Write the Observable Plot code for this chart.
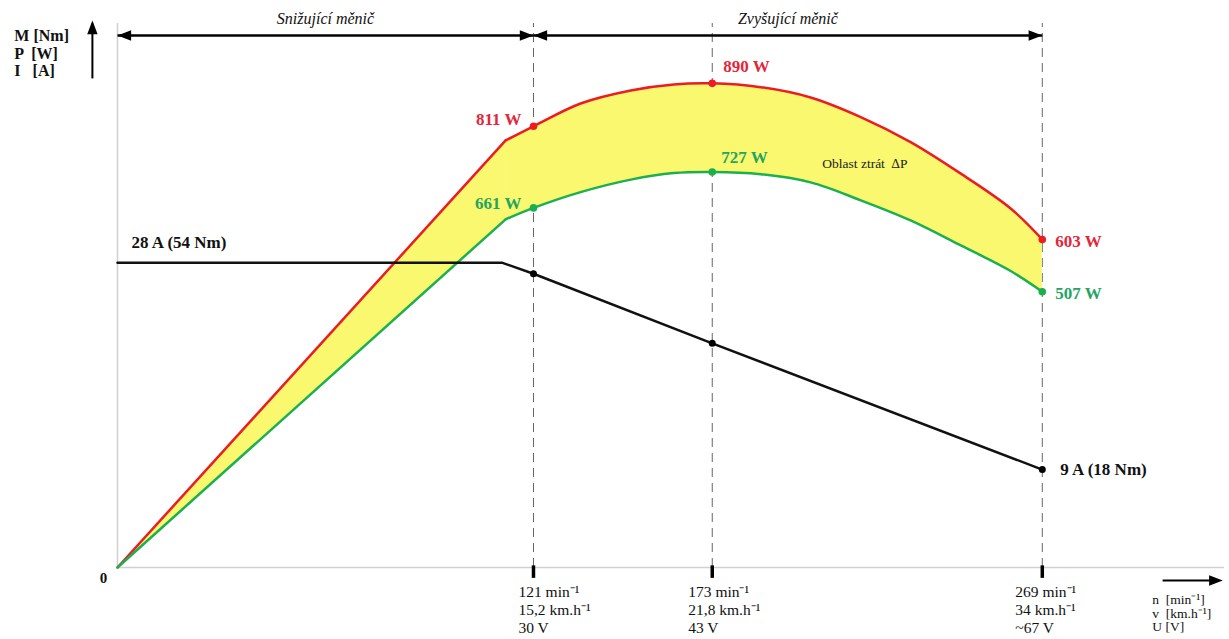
<!DOCTYPE html>
<html>
<head>
<meta charset="utf-8">
<script src="https://cdn.jsdelivr.net/npm/d3@7"></script>
<script src="https://cdn.jsdelivr.net/npm/@observablehq/plot@0.6"></script>
<style>
  html, body { margin: 0; padding: 0; background: #fff; }
  #chart { width: 1229px; height: 639px; overflow: hidden; }
</style>
</head>
<body>
<div id="chart"></div>
<script>
// ---- data ----
const rpm      = [0, 112.9, 121, 134.7, 149.3, 161.8, 173, 187.1, 201.6, 216.2, 230.7, 245.3, 259.8, 269];
const powerIn  = [0, 785, 811, 853, 877, 888, 890, 883, 864, 828, 782, 724, 660, 603];   // W (red)
const powerOut = [0, 640, 661, 690, 713, 725, 727, 723, 708, 675, 638, 592, 545, 507];   // W (green)

const currentRpm = [0, 112, 121, 173, 269];
const currentA   = [28, 28, 27, 20.6, 9];      // A (black), drawn with 20 W-units per A
const A_TO_UNITS = 20;

const markRpm     = [121, 173, 269];
const markIn      = [811, 890, 603];
const markOut     = [661, 727, 507];
const markCurrent = [27, 20.6, 9];

const tickRpm    = [121, 173, 269];
const tickLabels = ["121 min⁻¹\n15,2 km.h⁻¹\n30 V", "173 min⁻¹\n21,8 km.h⁻¹\n43 V", "269 min⁻¹\n34 km.h⁻¹\n~67 V"];

const regionNames = ["Snižující měnič", "Zvyšující měnič"];
const regionFrom  = [0, 121];
const regionTo    = [121, 269];

const inLabels  = ["811 W", "890 W", "603 W"];
const outLabels = ["661 W", "727 W", "507 W"];

// ---- build tables ----
const curve = rpm.map((r, i) => ({r, pin: powerIn[i], pout: powerOut[i]}));
const ramp = curve.slice(0, 2);      // straight rise up to the kink
const upper = curve.slice(1);        // smooth part
const cur = currentRpm.map((r, i) => ({r, v: currentA[i] * A_TO_UNITS}));
const RED = "#ec1c24", GREEN = "#1caf4f", YELLOW = "#f9f86e";
const RED_T = "#e3263a", GREEN_T = "#22a463";
const SMOOTH = "catmull-rom";

// arrowhead symbol: tip at the origin, pointing right
const head = {
  draw(ctx, size) {
    const s = Math.sqrt(size);
    ctx.moveTo(0, 0);
    ctx.lineTo(-s * 1.1, -s * 0.42);
    ctx.lineTo(-s * 1.1, s * 0.42);
    ctx.closePath();
  }
};

const TOP = 978;     // level of the region arrows (W units)
const serif = "Liberation Serif, Times New Roman, serif";

function label(x, y, text, o) {
  return Plot.text([text], {x, y, text: d => d, fontFamily: serif, ...o});
}

const labelMarks = [
  label(markRpm[0], markIn[0], inLabels[0], {textAnchor: "end", dx: -12, dy: -7, fill: RED_T, fontWeight: "bold", fontSize: 17}),
  label(markRpm[1], markIn[1], inLabels[1], {textAnchor: "start", dx: 11, dy: -17, fill: RED_T, fontWeight: "bold", fontSize: 17}),
  label(markRpm[2], markIn[2], inLabels[2], {textAnchor: "start", dx: 13, dy: 2, fill: RED_T, fontWeight: "bold", fontSize: 17}),
  label(markRpm[0], markOut[0], outLabels[0], {textAnchor: "end", dx: -12, dy: -4, fill: GREEN_T, fontWeight: "bold", fontSize: 17}),
  label(markRpm[1], markOut[1], outLabels[1], {textAnchor: "start", dx: 9, dy: -14, fill: GREEN_T, fontWeight: "bold", fontSize: 17}),
  label(markRpm[2], markOut[2], outLabels[2], {textAnchor: "start", dx: 13, dy: 2, fill: GREEN_T, fontWeight: "bold", fontSize: 17}),
  label(0, currentA[0] * A_TO_UNITS, "28 A (54 Nm)", {textAnchor: "start", dx: 14, dy: -20, fontWeight: "bold", fontSize: 17, fill: "#111"}),
  label(269, currentA[4] * A_TO_UNITS, "9 A (18 Nm)", {textAnchor: "start", dx: 18, dy: 0, fontWeight: "bold", fontSize: 17, fill: "#111"}),
  label(205, 743, "Oblast ztrát  ∆P", {textAnchor: "start", fontSize: 13.5, fill: "#222"}),
  label(0, 0, "0", {dx: -14, dy: 11, fontWeight: "bold", fontSize: 15, fill: "#111"}),
  label(-30, 978, "M [Nm]\nP  [W]\nI   [A]", {textAnchor: "start", lineAnchor: "top", dy: -7, lineHeight: 1.1, fontWeight: "bold", fontSize: 16, fill: "#111"}),
  label(tickRpm[0], 0, tickLabels[0], {textAnchor: "start", lineAnchor: "top", dx: -15, dy: 17, lineHeight: 1.16, fontSize: 15.5, fill: "#111"}),
  label(tickRpm[1], 0, tickLabels[1], {textAnchor: "start", lineAnchor: "top", dx: -24, dy: 17, lineHeight: 1.16, fontSize: 15.5, fill: "#111"}),
  label(tickRpm[2], 0, tickLabels[2], {textAnchor: "start", lineAnchor: "top", dx: -27, dy: 17, lineHeight: 1.16, fontSize: 15.5, fill: "#111"}),
  label(301, -24, "n  [min⁻¹]\nv  [km.h⁻¹]\nU [V]", {textAnchor: "start", lineAnchor: "top", dy: 14, lineHeight: 1.0, fontSize: 13.5, fill: "#111"})
];

const plot = Plot.plot({
  width: 1229,
  height: 639,
  marginLeft: 117,
  marginRight: 5,
  marginTop: 23,
  marginBottom: 72,
  x: {domain: [0, 322], axis: null},
  y: {domain: [0, 1000], axis: null},
  style: {fontFamily: serif, background: "#fff", overflow: "visible"},
  marks: [
    // axes
    Plot.ruleY([0], {stroke: "#d0d0d0", strokeWidth: 1.5}),
    Plot.ruleX([0], {y1: 0, y2: 1000, stroke: "#d0d0d0", strokeWidth: 1.5}),
    Plot.ruleX(tickRpm, {y1: 0, y2: 1000, stroke: "#666", strokeWidth: 1, strokeDasharray: "9,6"}),
    Plot.ruleX(tickRpm, {y1: -20, y2: 3, stroke: "#000", strokeWidth: 3.5}),
    // loss area
    Plot.areaY(ramp, {x: "r", y1: "pout", y2: "pin", fill: YELLOW}),
    Plot.areaY(upper, {x: "r", y1: "pout", y2: "pin", fill: YELLOW, curve: SMOOTH}),
    Plot.line(ramp, {x: "r", y: "pin", stroke: RED, strokeWidth: 2.5}),
    Plot.line(upper, {x: "r", y: "pin", stroke: RED, strokeWidth: 2.5, curve: SMOOTH}),
    Plot.line(ramp, {x: "r", y: "pout", stroke: GREEN, strokeWidth: 2.5}),
    Plot.line(upper, {x: "r", y: "pout", stroke: GREEN, strokeWidth: 2.5, curve: SMOOTH}),
    Plot.line(cur, {x: "r", y: "v", stroke: "#111", strokeWidth: 2.5}),
    Plot.dot(markRpm, {x: d => d, y: (d, i) => markIn[i], r: 3.8, fill: RED}),
    Plot.dot(markRpm, {x: d => d, y: (d, i) => markOut[i], r: 3.8, fill: GREEN}),
    Plot.dot(markRpm, {x: d => d, y: (d, i) => markCurrent[i] * A_TO_UNITS, r: 3.5, fill: "#000"}),
    // region double arrows
    Plot.link(regionNames, {x1: (d, i) => regionFrom[i], x2: (d, i) => regionTo[i], y1: TOP, y2: TOP,
      stroke: "#000", strokeWidth: 2.5}),
    Plot.dot(regionNames, {x: (d, i) => regionFrom[i], y: TOP, symbol: head, r: 7, rotate: 180, fill: "#000", stroke: null}),
    Plot.dot(regionNames, {x: (d, i) => regionTo[i], y: TOP, symbol: head, r: 7, rotate: 0, fill: "#000", stroke: null}),
    Plot.text(regionNames, {x: (d, i) => (regionFrom[i] + regionTo[i]) / 2, y: TOP, dy: -17, text: d => d,
      fontStyle: "italic", fontSize: 16, fill: "#111"}),
    // y-axis arrow
    Plot.link([0], {x1: -7.3, x2: -7.3, y1: 899, y2: 1000, stroke: "#000", strokeWidth: 2}),
    Plot.dot([0], {x: -7.3, y: 1000, dy: -3, symbol: head, r: 7, rotate: -90, fill: "#000", stroke: null}),
    // x-axis arrow
    Plot.link([0], {x1: 304, x2: 319, y1: -24, y2: -24, stroke: "#000", strokeWidth: 2}),
    Plot.dot([0], {x: 321.5, y: -24, symbol: head, r: 7, rotate: 0, fill: "#000", stroke: null}),
    ...labelMarks
  ]
});
document.getElementById("chart").append(plot);
</script>
</body>
</html>
